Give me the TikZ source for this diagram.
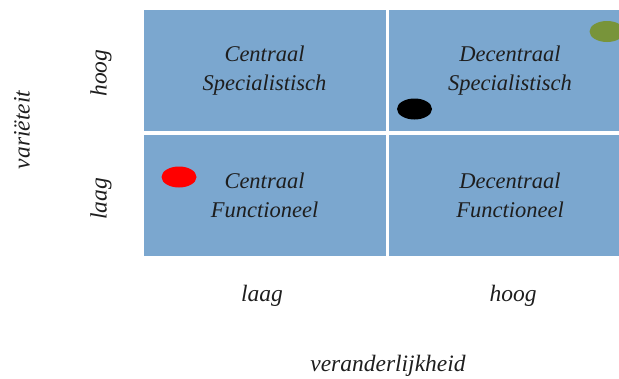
\documentclass[tikz,border=0pt]{standalone}
\usepackage{fontspec}
\setmainfont{Liberation Serif}
\usepackage{tikz}
\usetikzlibrary{positioning,shapes.geometric}

\definecolor{cellblue}{RGB}{123,167,207}
\definecolor{dotgreen}{RGB}{120,148,58}
\definecolor{txtgray}{RGB}{30,30,30}

\tikzset{
  cell/.style={fill=cellblue,draw=none,minimum width=242pt,minimum height=121pt,
    inner sep=0pt,align=center,text=txtgray,font=\fontsize{22.5}{29}\selectfont\itshape},
  axlbl/.style={text=txtgray,font=\fontsize{23.5}{26}\selectfont\itshape,inner sep=0pt},
  dot/.style={ellipse,minimum width=35pt,minimum height=21pt,inner sep=0pt,draw=none}
}

\begin{document}
\begin{tikzpicture}[x=1pt,y=-1pt]
  \useasboundingbox (0,0) rectangle (619,378);
  \clip (0,0) rectangle (619,378);
  % quadrants
  \node[cell] (cs) at (264.5,70.5) {Centraal\\Specialistisch};
  \node[cell] (ds) at (510,70.5) {Decentraal\\Specialistisch};
  \node[cell] (cf) at (264.5,195.5) {Centraal\\Functioneel};
  \node[cell] (df) at (510,195.5) {Decentraal\\Functioneel};
  % positions
  \node[dot,fill=red] (rood) at (179,177) {};
  \node[dot,fill=black] (zwart) at (414.5,109) {};
  \node[dot,fill=dotgreen] (groen) at (607,31.5) {};
  % axes
  \node[axlbl,rotate=90] (hoogy) at (101,73) {hoog};
  \node[axlbl,rotate=90] (laagy) at (101,199) {laag};
  \node[axlbl,rotate=90] (var) at (22,130) {variëteit};
  \node[axlbl] (laagx) at (262,296) {laag};
  \node[axlbl] (hoogx) at (513,296) {hoog};
  \node[axlbl] (verand) at (388,366) {veranderlijkheid};
\end{tikzpicture}
\end{document}
